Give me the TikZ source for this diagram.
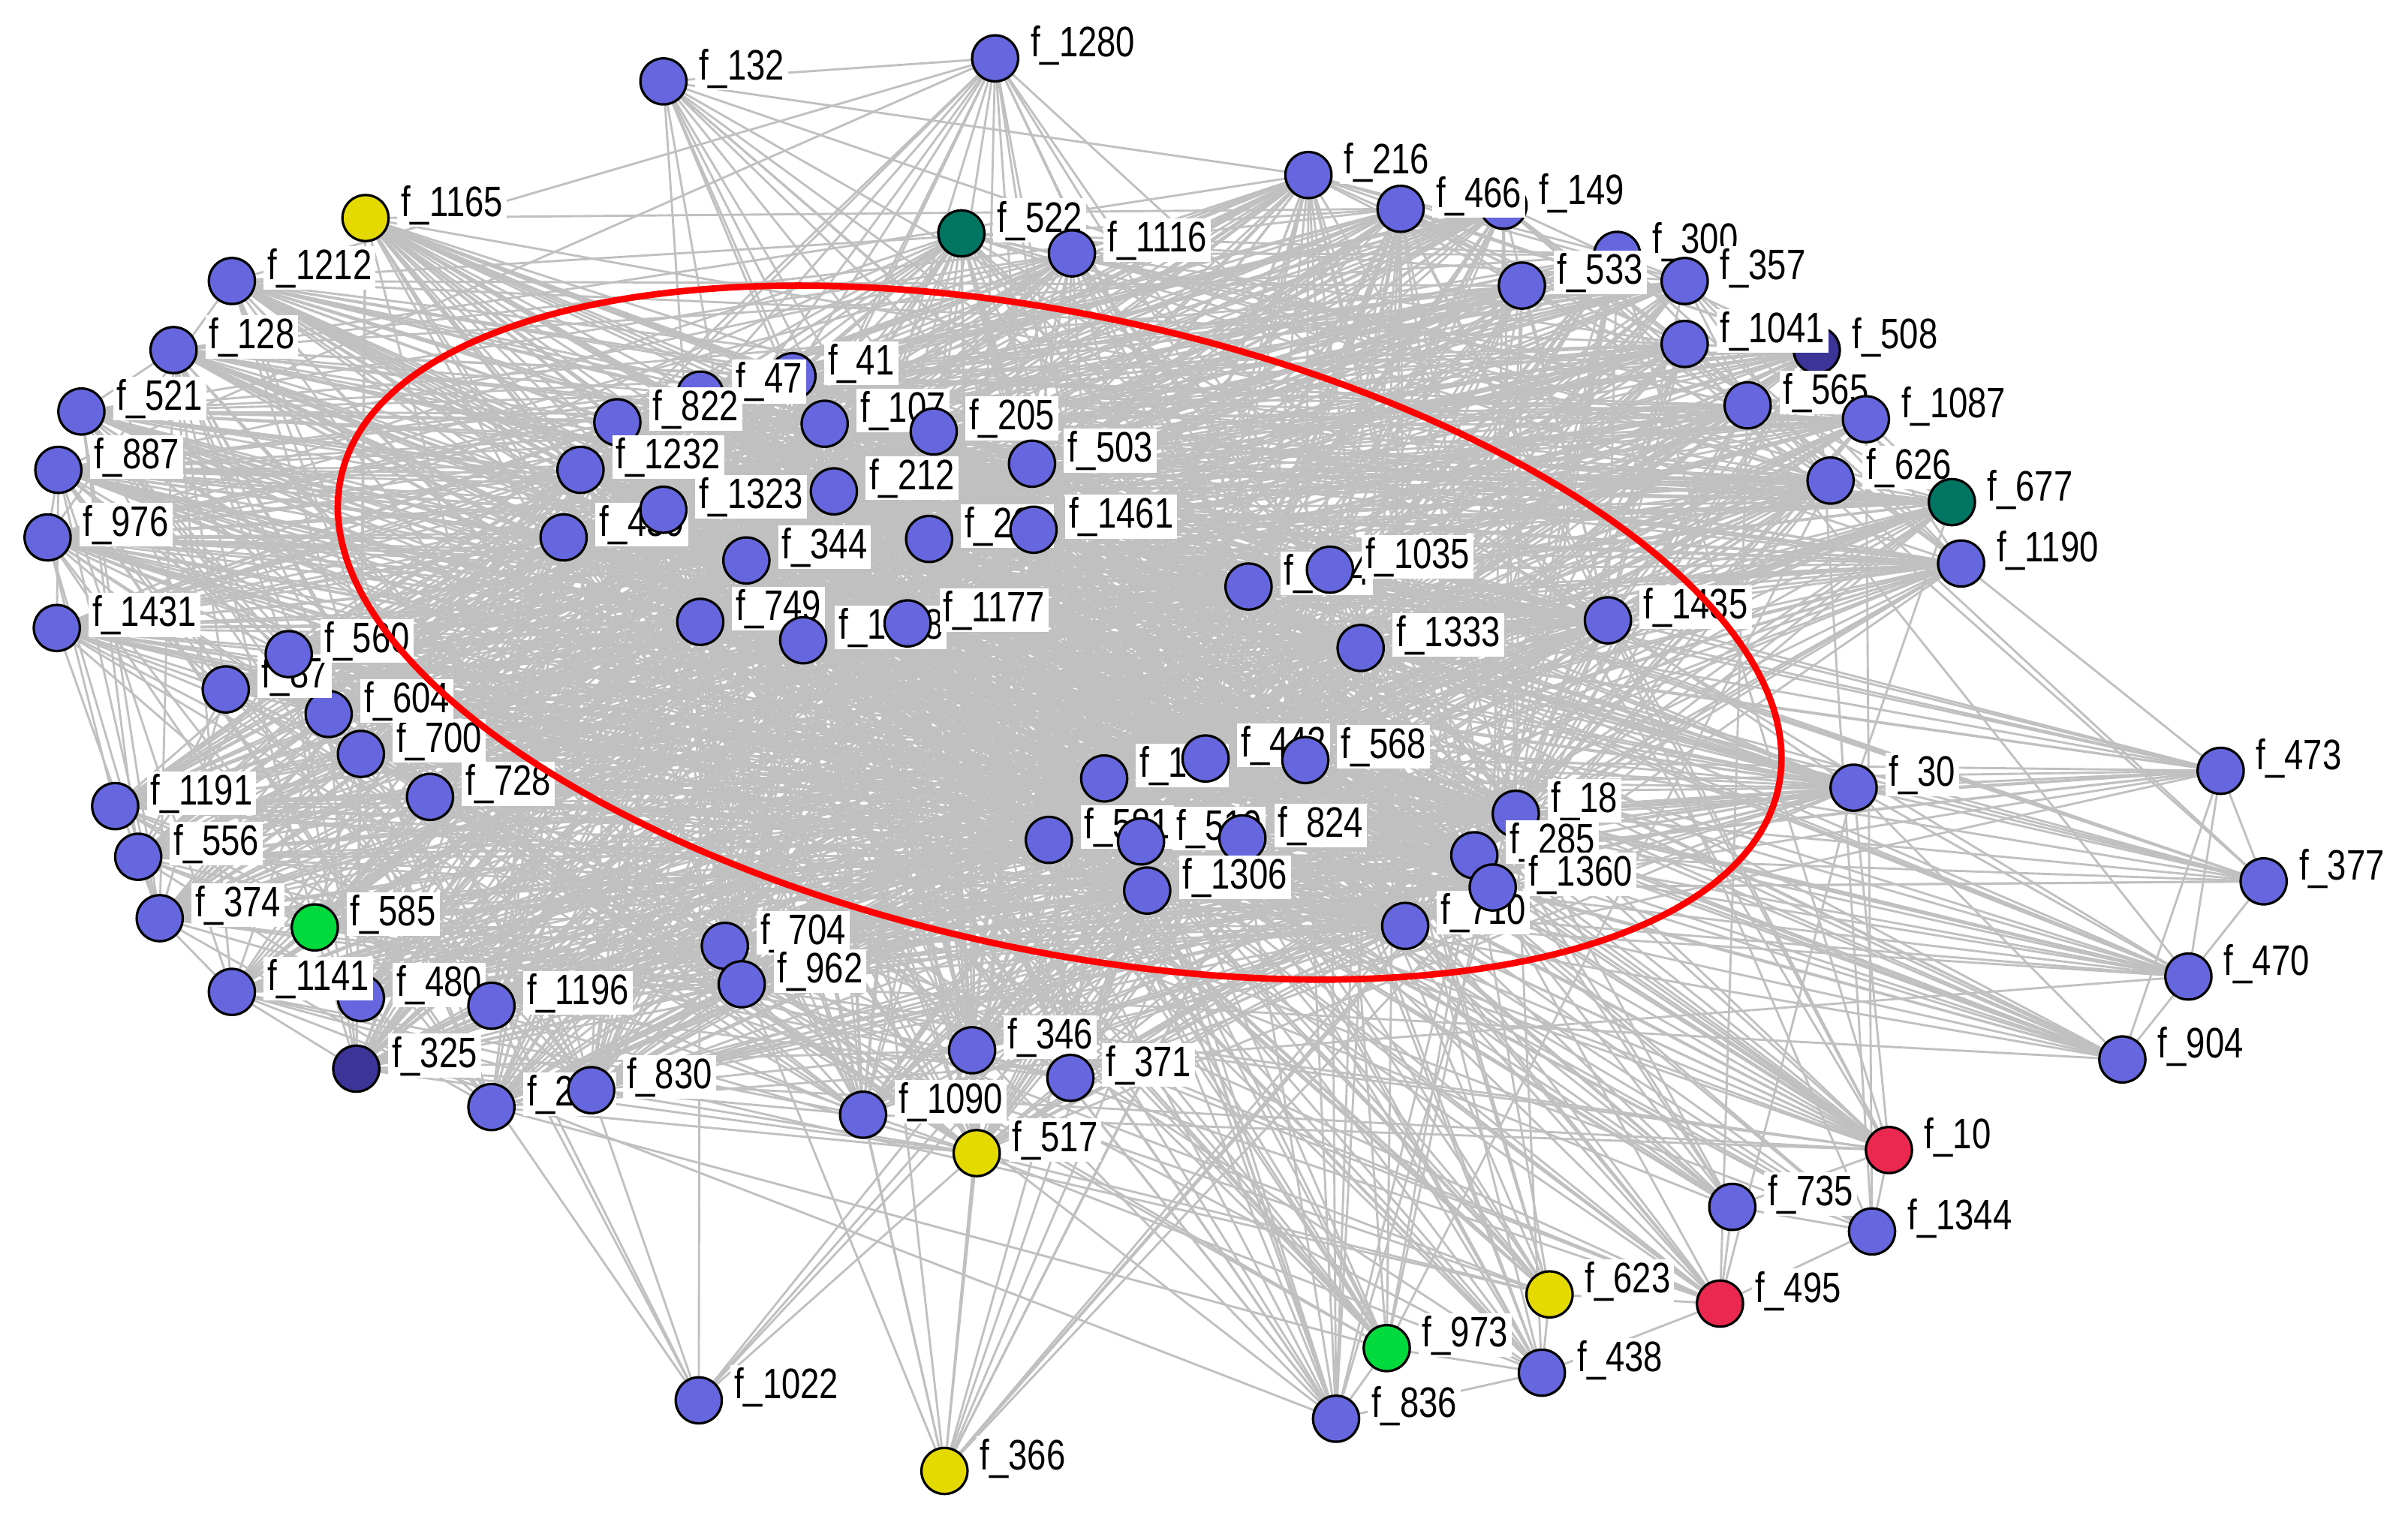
\documentclass[tikz,border=0pt]{standalone}
\usepackage{fontspec}
\setmainfont[FakeStretch=0.8]{Liberation Sans}
\usetikzlibrary{backgrounds}
\definecolor{nblue}{RGB}{102,102,222}
\definecolor{ndark}{RGB}{60,52,150}
\definecolor{nteal}{RGB}{0,118,98}
\definecolor{nyellow}{RGB}{228,218,0}
\definecolor{ngreen}{RGB}{0,218,60}
\definecolor{nred}{RGB}{234,40,80}
\definecolor{edgegray}{RGB}{192,192,192}
\def\innerlist{f47,f41,f822,f107,f205,f503,f1232,f212,f1323,f459,f344,f2a,f1461,f749,f1058,f1177,f644,f1035,f1333,f1435,f137,f442,f568,f581,f510,f824,f1306,f18,f285,f1360,f710}
\def\ringlist{f1165,f522,f1116,f216,f466,f149,f300,f533,f357,f1041,f508,f565,f1087,f626,f677,f1190,f30,f517,f1090,f346,f371,f830,f2b,f325,f1141,f480,f1196,f374,f585,f556,f1191,f728,f700,f604,f560,f87,f1431,f976,f887,f521,f128,f1212,f704,f962}
\begin{document}
\begin{tikzpicture}[x=0.1mm,y=-0.1mm,
  nd/.style={circle,draw=black,line width=0.45pt,minimum size=3mm,inner sep=0pt},
  lb/.style={fill=white,inner xsep=0.7pt,inner ysep=0.3pt,text height=5.9pt,text depth=1.6pt,anchor=west,font=\fontsize{7.9}{8}\selectfont},
  ed/.style={draw=edgegray,line width=0.4pt},
  ring/.style={draw=red,line width=1.2pt}]
\useasboundingbox (0,0) rectangle (1568,995);
% nodes and labels (drawing order reproduces overlaps)
\foreach \n/\x/\y/\t/\c in {
 f1165/238/142/f\_1165/nyellow,
 f132/432/53/f\_132/nblue,
 f1280/648/38/f\_1280/nblue,
 f522/626/152/f\_522/nteal,
 f1116/698/165/f\_1116/nblue,
 f216/852/114/f\_216/nblue,
 f149/979/134/f\_149/nblue,
 f466/912/136/f\_466/nblue,
 f300/1053/166/f\_300/nblue,
 f533/991/186/f\_533/nblue,
 f357/1097/183/f\_357/nblue,
 f508/1183/228/f\_508/ndark,
 f1041/1097/224/f\_1041/nblue,
 f565/1138/264/f\_565/nblue,
 f1087/1215/273/f\_1087/nblue,
 f626/1192/313/f\_626/nblue,
 f677/1271/327/f\_677/nteal,
 f1190/1277/367/f\_1190/nblue,
 f30/1207/513/f\_30/nblue,
 f473/1446/502/f\_473/nblue,
 f377/1474/574/f\_377/nblue,
 f470/1425/636/f\_470/nblue,
 f904/1382/690/f\_904/nblue,
 f10/1230/749/f\_10/nred,
 f735/1128/786/f\_735/nblue,
 f1344/1219/802/f\_1344/nblue,
 f495/1120/849/f\_495/nred,
 f623/1009/843/f\_623/nyellow,
 f438/1004/894/f\_438/nblue,
 f973/903/878/f\_973/ngreen,
 f836/870/924/f\_836/nblue,
 f366/615/958/f\_366/nyellow,
 f1022/455/912/f\_1022/nblue,
 f517/636/751/f\_517/nyellow,
 f1090/562/726/f\_1090/nblue,
 f346/633/684/f\_346/nblue,
 f371/697/702/f\_371/nblue,
 f2b/320/721/f\_208/nblue,
 f830/385/710/f\_830/nblue,
 f325/232/696/f\_325/ndark,
 f480/235/650/f\_480/nblue,
 f1141/151/646/f\_1141/nblue,
 f1196/320/655/f\_1196/nblue,
 f374/104/598/f\_374/nblue,
 f585/205/604/f\_585/ngreen,
 f556/90/558/f\_556/nblue,
 f1191/75/525/f\_1191/nblue,
 f728/280/519/f\_728/nblue,
 f700/235/491/f\_700/nblue,
 f604/214/465/f\_604/nblue,
 f87/147/449/f\_87/nblue,
 f560/188/426/f\_560/nblue,
 f1431/37/409/f\_1431/nblue,
 f976/31/350/f\_976/nblue,
 f887/38/306/f\_887/nblue,
 f521/53/268/f\_521/nblue,
 f128/113/228/f\_128/nblue,
 f1212/151/183/f\_1212/nblue,
 f704/472/616/f\_704/nblue,
 f962/483/641/f\_962/nblue,
 f41/516/245/f\_41/nblue,
 f47/456/257/f\_47/nblue,
 f822/402/275/f\_822/nblue,
 f1232/378/306/f\_1232/nblue,
 f107/537/276/f\_107/nblue,
 f205/608/281/f\_205/nblue,
 f503/672/302/f\_503/nblue,
 f212/543/320/f\_212/nblue,
 f459/367/350/f\_459/nblue,
 f1323/432/332/f\_1323/nblue,
 f344/486/365/f\_344/nblue,
 f2a/605/351/f\_261/nblue,
 f1461/673/345/f\_1461/nblue,
 f749/456/405/f\_749/nblue,
 f1058/523/417/f\_1058/nblue,
 f1177/591/406/f\_1177/nblue,
 f644/813/382/f\_644/nblue,
 f1035/866/371/f\_1035/nblue,
 f1333/886/422/f\_1333/nblue,
 f1435/1047/404/f\_1435/nblue,
 f137/719/507/f\_137/nblue,
 f442/785/494/f\_442/nblue,
 f568/850/495/f\_568/nblue,
 f581/683/547/f\_581/nblue,
 f510/743/548/f\_510/nblue,
 f824/809/546/f\_824/nblue,
 f1306/747/580/f\_1306/nblue,
 f18/987/530/f\_18/nblue,
 f285/960/557/f\_285/nblue,
 f710/915/603/f\_710/nblue,
 f1360/972/578/f\_1360/nblue}{
  \node[nd,fill=\c] (\n) at (\x,\y) {};
  \node[lb] (\n-l) at (\x+20,\y-8.5) {\t};
}
% connectors
\begin{pgfonlayer}{background}
\pgfmathsetseed{4217}
\foreach \a [count=\i] in \innerlist {
  \foreach \b [count=\j] in \innerlist {
    \ifnum\j>\i
      \pgfmathtruncatemacro{\ok}{rnd<0.9}
      \ifnum\ok=1 \draw[ed] (\a.center) -- (\b.center); \fi
    \fi
  }
}
\foreach \a in \innerlist {
  \foreach \b in \ringlist {
    \pgfmathtruncatemacro{\ok}{rnd<0.75}
    \ifnum\ok=1 \draw[ed] (\a.center) -- (\b.center); \fi
  }
}
\foreach \a [count=\i] in \ringlist {
  \foreach \b [count=\j] in \ringlist {
    \ifnum\j>\i
      \pgfmathtruncatemacro{\ok}{rnd<0.35}
      \ifnum\ok=1 \draw[ed] (\a.center) -- (\b.center); \fi
    \fi
  }
}
\foreach \p/\pa/\pb in {f132/0.5/0.05, f1280/0.45/0.12, f473/0.4/0.1, f377/0.4/0.08,
  f470/0.4/0.08, f904/0.4/0.08, f1022/0.06/0.06, f366/0.45/0.15, f836/0.55/0.15,
  f973/0.5/0.12, f438/0.25/0.08, f623/0.45/0.1, f495/0.4/0.1, f10/0.6/0.15,
  f1344/0.4/0.1, f735/0.4/0.1} {
  \foreach \b in \innerlist {
    \pgfmathtruncatemacro{\ok}{rnd<\pa}
    \ifnum\ok=1 \draw[ed] (\p.center) -- (\b.center); \fi
  }
  \foreach \b in \ringlist {
    \pgfmathtruncatemacro{\ok}{rnd<\pb}
    \ifnum\ok=1 \draw[ed] (\p.center) -- (\b.center); \fi
  }
}
\foreach \a/\b in {f132/f1280, f473/f377, f473/f470, f473/f904, f377/f470, f470/f904,
  f30/f473, f30/f377, f30/f470, f30/f904, f1190/f473, f10/f30, f10/f1344, f10/f735,
  f735/f1344, f495/f1344, f495/f735, f623/f438, f438/f836, f973/f836, f438/f495,
  f623/f495, f973/f438, f1022/f517, f366/f517, f366/f1090}
  \draw[ed] (\a.center) -- (\b.center);
\end{pgfonlayer}
% highlighted region
\draw[ring, rotate around={-12.2:(690,412)}] (690,412) ellipse [x radius=478.8, y radius=206.7];
\end{tikzpicture}
\end{document}
